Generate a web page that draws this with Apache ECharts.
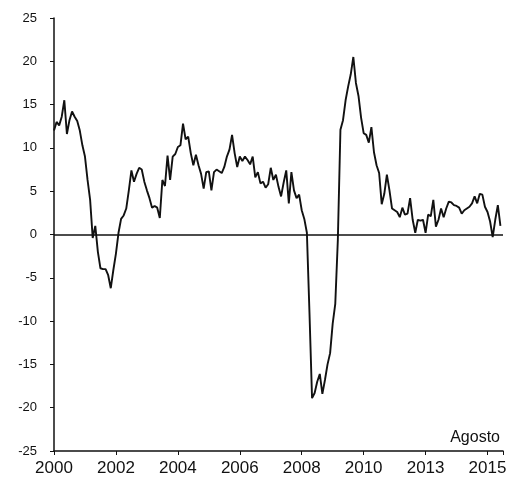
<!DOCTYPE html>
<html>
<head>
<meta charset="utf-8">
<script src="https://cdn.jsdelivr.net/npm/echarts@6/dist/echarts.min.js"></script>
<style>
  html, body { margin: 0; padding: 0; background: #fff; }
  #chart { width: 512px; height: 480px; }
</style>
</head>
<body>
<div id="chart"></div>
<script>
// valores mensuales, enero 2000 - agosto 2015
const valores = [
  12.0, 13.0, 12.6, 13.6, 15.5, 11.6, 13.2, 14.2, 13.6, 13.1, 12.0, 10.3,
  9.0, 6.3, 4.0, -0.4, 1.0, -2.0, -3.9, -4.0, -4.0, -4.7, -6.2, -4.1,
  -2.2, 0.2, 1.8, 2.2, 3.0, 5.1, 7.4, 6.1, 7.0, 7.7, 7.5, 6.1,
  5.1, 4.2, 3.1, 3.3, 3.1, 1.9, 6.3, 5.6, 9.1, 6.3, 9.0, 9.3,
  10.1, 10.3, 12.8, 11.0, 11.3, 9.4, 8.0, 9.2, 8.0, 7.0, 5.3, 7.2,
  7.3, 5.1, 7.2, 7.5, 7.3, 7.1, 7.8, 9.0, 9.8, 11.5, 9.4, 7.8,
  9.0, 8.5, 9.0, 8.6, 8.1, 9.0, 6.6, 7.2, 5.9, 6.1, 5.4, 5.8,
  7.7, 6.3, 6.9, 5.5, 4.4, 6.0, 7.4, 3.6, 7.2, 5.1, 4.2, 4.6,
  2.8, 1.8, 0.2, -9.0, -18.9, -18.3, -17.0, -16.1, -18.4, -16.8, -15.0, -13.7,
  -10.3, -8.0, -0.6, 12.1, 13.2, 15.5, 17.1, 18.5, 20.5, 17.5, 16.0, 13.5,
  11.7, 11.5, 10.6, 12.4, 9.5, 8.0, 7.1, 3.5, 4.7, 6.9, 5.1, 3.0,
  2.8, 2.6, 2.0, 3.1, 2.3, 2.4, 4.2, 1.7, 0.2, 1.7, 1.6, 1.7,
  0.2, 2.3, 2.1, 4.0, 0.9, 1.7, 3.0, 2.0, 3.0, 3.8, 3.7, 3.4,
  3.3, 3.1, 2.4, 2.8, 3.0, 3.2, 3.6, 4.4, 3.6, 4.7, 4.6, 3.2,
  2.6, 1.5, -0.3, 1.7, 3.4, 1.0
];

// etiquetas del eje x (tal como aparecen en el original)
const etiquetasX = ['2000', '2002', '2004', '2006', '2008', '2010', '2013', '2015'];

const chart = echarts.init(document.getElementById('chart'));

const puntos = valores.map((v, i) => [i / 12, v]);

const option = {
  backgroundColor: '#fff',
  animation: false,
  textStyle: { fontFamily: 'Liberation Sans, Arial, sans-serif' },
  grid: { left: 54, right: 9, top: 18, bottom: 29 },
  xAxis: {
    type: 'value',
    min: 0,
    max: 14.5,
    interval: 2,
    axisLine: { onZero: false, lineStyle: { color: '#111', width: 1.5 } },
    axisTick: { show: true, length: 4, lineStyle: { color: '#111' } },
    splitLine: { show: false },
    axisLabel: {
      color: '#111',
      fontSize: 17,
      margin: 9,
      formatter: function (v) {
        const k = v / 2;
        return Number.isInteger(k) && etiquetasX[k] ? etiquetasX[k] : '';
      }
    }
  },
  yAxis: {
    type: 'value',
    min: -25,
    max: 25,
    interval: 5,
    axisLine: { show: true, lineStyle: { color: '#111', width: 1.5 } },
    axisTick: { show: true, length: 4, lineStyle: { color: '#111' } },
    splitLine: { show: false },
    axisLabel: { color: '#111', fontSize: 13, margin: 17 }
  },
  graphic: [{
    type: 'text',
    right: 12,
    top: 430,
    style: { text: 'Agosto', fontSize: 16, fill: '#111', fontFamily: 'Liberation Sans, Arial, sans-serif' }
  }],
  series: [{
    type: 'line',
    data: puntos,
    showSymbol: false,
    lineStyle: { color: '#111', width: 1.9 },
    markLine: {
      silent: true,
      symbol: 'none',
      label: { show: false },
      lineStyle: { color: '#111', width: 1.5, type: 'solid' },
      data: [{ yAxis: 0 }]
    }
  }]
};

chart.setOption(option);
</script>
</body>
</html>
